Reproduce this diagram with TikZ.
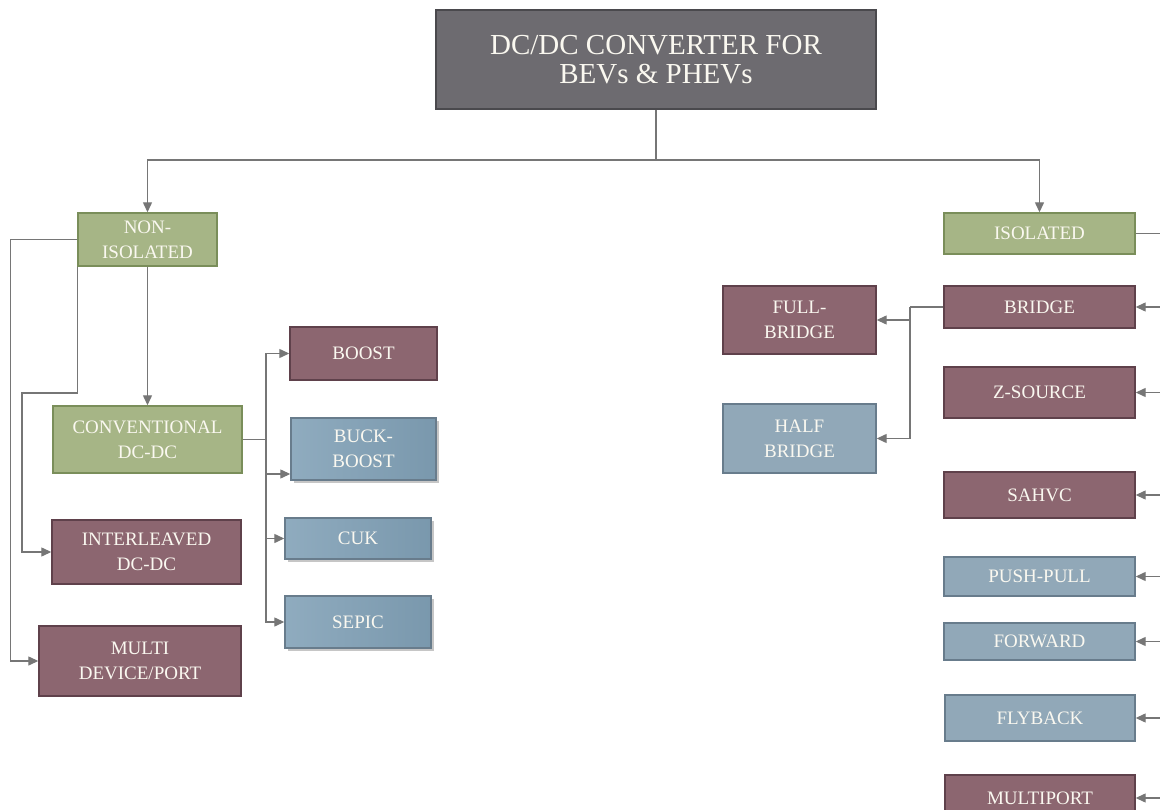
\documentclass[tikz,border=0pt]{standalone}
\usepackage{fontspec}
\setmainfont{Liberation Serif}
\usetikzlibrary{arrows.meta, positioning, shadows}
\definecolor{topbg}{HTML}{6D6B70}
\definecolor{topbd}{HTML}{4A494D}
\definecolor{grnbg}{HTML}{A6B586}
\definecolor{grnbd}{HTML}{7A8E5A}
\definecolor{redbg}{HTML}{8C6670}
\definecolor{redbd}{HTML}{5F414B}
\definecolor{blubg}{HTML}{91A8B8}
\definecolor{blubd}{HTML}{687C8C}
\definecolor{blubg2}{HTML}{80A0B6}
\definecolor{wire}{HTML}{767676}
\definecolor{txt}{HTML}{FAF8F0}
\tikzset{
  box/.style={
    line width=1.4pt, align=center, inner sep=0pt, text=txt,
    font=\fontsize{19}{25}\selectfont
  },
  topbox/.style={box, draw=topbd, fill=topbg, font=\fontsize{29}{29}\selectfont},
  grnbox/.style={box, draw=grnbd, fill=grnbg},
  redbox/.style={box, draw=redbd, fill=redbg},
  blubox/.style={box, draw=blubd, fill=blubg},
  shdbox/.style={box, draw=blubd, left color=blubg2!88!white, right color=blubg2!95!black,
    drop shadow={shadow xshift=2.5pt, shadow yshift=-2.5pt, opacity=0.45}},
  wh/.style={minimum width=#1},
  ht/.style={minimum height=#1},
  line/.style={draw=wire, line width=1.3pt},
  arr/.style={line, -{Triangle[length=10pt, width=9pt]}, color=wire}
}

\begin{document}
\begin{tikzpicture}[x=1pt, y=-1pt]
  \useasboundingbox (0,0) rectangle (1160,810);

  \node[topbox, wh=440, ht=99] (top) at (656,59.5) {DC/DC CONVERTER FOR\\BEVs \& PHEVs};

  \node[grnbox, wh=139, ht=53] (noniso) at (147.5,239.5) {NON-\\ISOLATED};
  \node[grnbox, wh=191, ht=41] (iso) at (1039.5,233.5) {ISOLATED};

  % non-isolated branch
  \node[grnbox, wh=189, ht=67] (conv) at (147.5,439.5) {CONVENTIONAL\\DC-DC};
  \node[redbox, wh=189, ht=64] (inter) at (146.5,552) {INTERLEAVED\\DC-DC};
  \node[redbox, wh=202, ht=70] (multi) at (140,661) {MULTI\\DEVICE/PORT};

  \node[redbox, wh=147, ht=53] (boost) at (363.5,353.5) {BOOST};
  \node[shdbox, wh=145, ht=62] (bboost) at (363.5,449) {BUCK-\\BOOST};
  \node[shdbox, wh=146, ht=41] (cuk) at (358,538.5) {CUK};
  \node[shdbox, wh=146, ht=52] (sepic) at (358,622) {SEPIC};

  % isolated branch
  \node[redbox, wh=191, ht=42] (bridge) at (1039.5,307) {BRIDGE};
  \node[redbox, wh=153, ht=68] (full) at (799.5,320) {FULL-\\BRIDGE};
  \node[blubox, wh=153, ht=69] (half) at (799.5,438.5) {HALF\\BRIDGE};
  \node[redbox, wh=191, ht=51] (zsrc) at (1039.5,392.5) {Z-SOURCE};
  \node[redbox, wh=191, ht=46] (sahvc) at (1039.5,495) {SAHVC};
  \node[blubox, wh=191, ht=39] (push) at (1039.5,576.5) {PUSH-PULL};
  \node[blubox, wh=191, ht=37] (fwd) at (1039.5,641.5) {FORWARD};
  \node[blubox, wh=190, ht=46] (fly) at (1040,718) {FLYBACK};
  \node[redbox, wh=190, ht=46] (mport) at (1040,798) {MULTIPORT};

  \coordinate (split) at (656,160);
  \draw[line] (top.south) -- (split);
  \draw[arr] (split) -| (noniso.north);
  \draw[arr] (split) -| (iso.north);

  \draw[arr] (noniso) -- (conv);
  \draw[arr] (noniso.west) -- ++(-67,0) |- (multi.west);
  \draw[arr] (noniso.south west) |- (22,393) |- (inter.west);

  \coordinate (cbus) at (266,439.5);
  \draw[line] (conv.east) -- (cbus);
  \draw[arr] (cbus) |- (boost.west);
  \draw[arr] (cbus) |- ([yshift=-25pt]bboost.west);
  \draw[arr] (cbus) |- (cuk.west);
  \draw[arr] (cbus) |- (sepic.west);

  \coordinate (bbus) at (910,307);
  \draw[line] (bridge.west) -- (bbus);
  \draw[arr] (bbus) |- (full.east);
  \draw[arr] (bbus) |- (half.east);

  \coordinate (ibus) at (1175,233.5);
  \draw[line] (iso.east) -- (ibus);
  \foreach \n in {bridge,zsrc,sahvc,push,fwd,fly,mport}
    \draw[arr] (ibus) |- (\n.east);
\end{tikzpicture}
\end{document}
